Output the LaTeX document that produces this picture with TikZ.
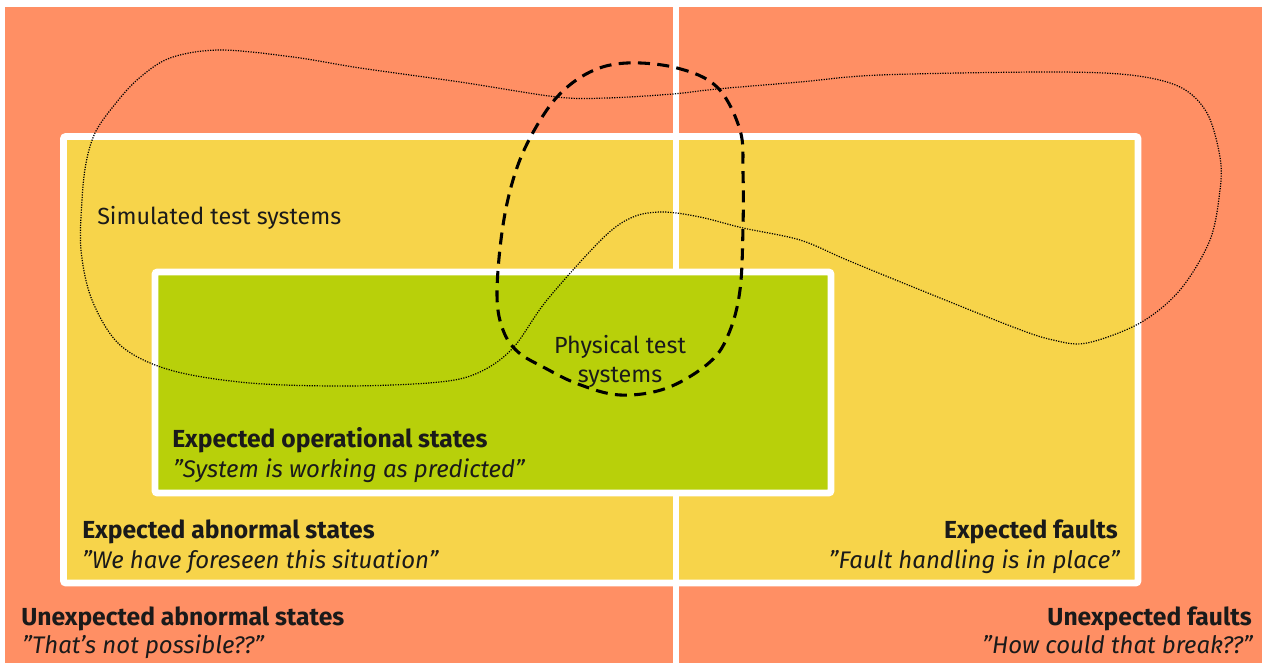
\documentclass[tikz,border=0pt]{standalone}
\usepackage{fontspec}
\setmainfont{Fira Sans}
\definecolor{bgorange}{HTML}{FF8F64}
\definecolor{midyellow}{HTML}{F7D44A}
\definecolor{ingreen}{HTML}{B8D00A}
\definecolor{txt}{HTML}{1A1A1A}
\begin{document}
\begin{tikzpicture}[x=0.75pt,y=-0.75pt,
  zone/.style={line width=4.9pt, draw=white, rounded corners=1.5pt},
  title/.style={font=\fontsize{18.5}{22}\selectfont\bfseries, text=txt, inner sep=0pt},
  quote/.style={font=\fontsize{18}{22}\selectfont\itshape, text=txt, inner sep=0pt},
  plain/.style={font=\fontsize{17.5}{21.75}\selectfont, text=txt, inner sep=0pt},
  simline/.style={line width=0.9pt, densely dotted, draw=black},
  physline/.style={line width=2.3pt, dash pattern=on 9pt off 5.5pt, draw=black}]
\useasboundingbox (0,0) rectangle (1264,663);
\fill[white] (0,0) rectangle (1264,663);
\fill[bgorange] (5,7) rectangle (1262,663);
\draw[zone, fill=midyellow] (63.5,136.5) rectangle (1138,583);
\draw[white, line width=4.5pt] (676,7) -- (676,663);
\draw[zone, fill=ingreen] (155,272) rectangle (831,493);
% simulated test systems (dotted)
\draw[simline] plot[smooth cycle, tension=0.55] coordinates {
 (220,50) (293,57) (360,68) (460,82) (557,97) (607,98) (673,94) (717,89)
 (800,82) (880,75) (1047,72) (1130,75) (1180,87) (1207,113) (1220,157)
 (1220,190) (1210,240) (1180,290) (1140,323) (1087,343) (1053,340)
 (1013,327) (913,287) (847,260) (800,240) (743,228) (700,217) (663,212)
 (633,217) (603,238) (547,300) (513,348) (480,372) (440,382) (350,386)
 (250,383) (170,370) (120,345) (92,300) (81,250) (82,200) (86,163)
 (95,133) (112,108) (137,80) (170,58)};
% physical test systems (dashed)
\draw[physline] plot[smooth cycle, tension=0.6] coordinates {
 (627,63) (677,68) (717,87) (740,130) (743,173) (743,227) (740,290)
 (729,333) (710,362) (667,388) (620,395) (578,384) (545,368) (518,352)
 (503,330) (497,295) (502,232) (513,180) (530,138) (557,97) (590,72)};
% labels
\node[plain, anchor=base west] (sim) at (97,224) {Simulated test systems};
\node[plain, anchor=base, align=center] (phys) at (620,382) {Physical test\\systems};
\node[title, anchor=base west] (eos) at (172,447) {Expected operational states};
\node[quote, anchor=base west] (eosq) at (173,477) {"System is working as predicted"};
\node[title, anchor=base west] (eas) at (82,538) {Expected abnormal states};
\node[quote, anchor=base west] (easq) at (82,568) {"We have foreseen this situation"};
\node[title, anchor=base east] (ef) at (1118,538) {Expected faults};
\node[quote, anchor=base east] (efq) at (1120,568) {"Fault handling is in place"};
\node[title, anchor=base west] (uas) at (21,625) {Unexpected abnormal states};
\node[quote, anchor=base west] (uasq) at (22,653) {"That's not possible??"};
\node[title, anchor=base east] (uf) at (1252,625) {Unexpected faults};
\node[quote, anchor=base east] (ufq) at (1253,653) {"How could that break??"};
\end{tikzpicture}
\end{document}
